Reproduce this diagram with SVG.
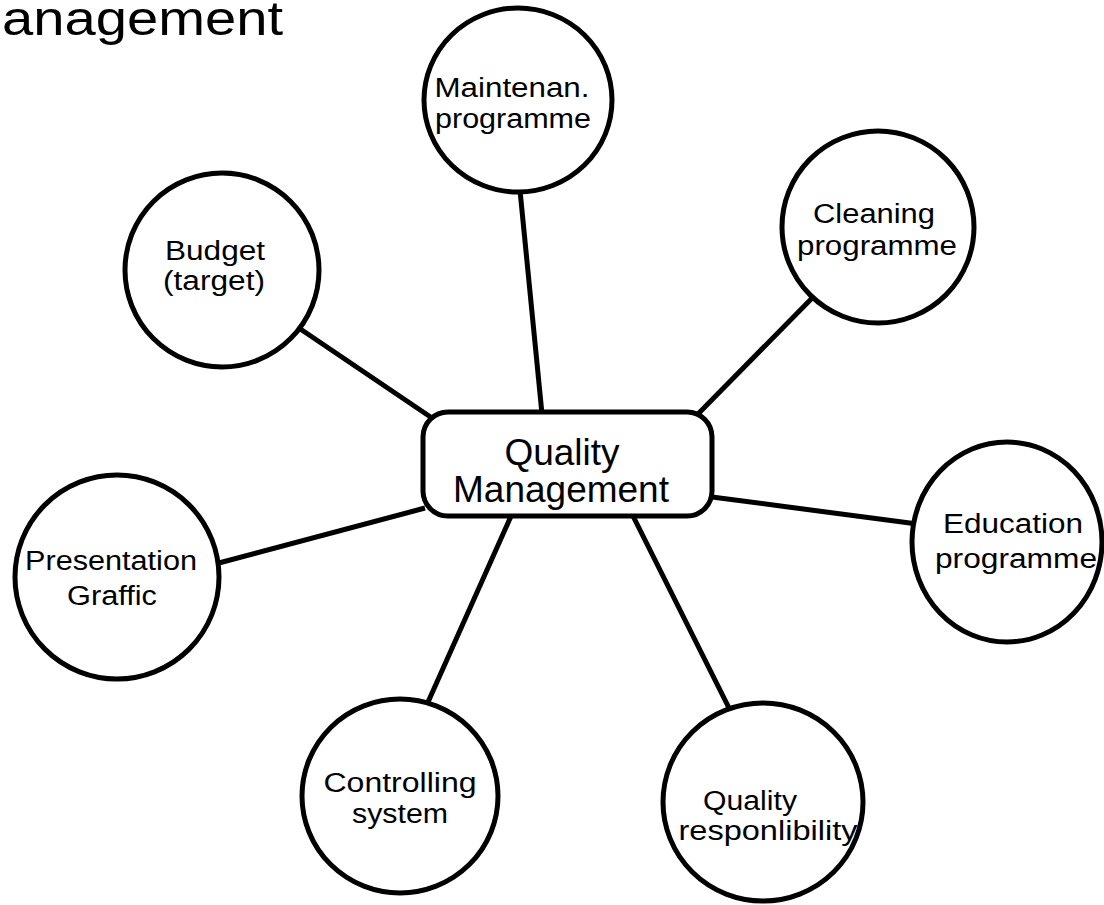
<svg xmlns="http://www.w3.org/2000/svg" width="1104" height="905" viewBox="0 0 1104 905">
<style>
.node{fill:#fff;stroke:#000;stroke-width:5}
.conn line{stroke:#000;stroke-width:5}
.t{font-family:"Liberation Sans",Arial,sans-serif;font-size:27px;fill:#000;text-anchor:middle}
.c{font-family:"Liberation Sans",Arial,sans-serif;font-size:37px;fill:#000;text-anchor:middle}
</style>
<rect width="1104" height="905" fill="#fff"/>
<text x="2" y="35" font-family="Liberation Sans, Arial, sans-serif" font-size="48" textLength="281" lengthAdjust="spacingAndGlyphs" fill="#000">anagement</text>
<g class="conn">
<line x1="518" y1="170" x2="542" y2="414"/>
<line x1="820" y1="290" x2="697" y2="415"/>
<line x1="290" y1="322" x2="432" y2="418"/>
<line x1="200" y1="568" x2="425" y2="508"/>
<line x1="712" y1="497" x2="925" y2="525"/>
<line x1="420" y1="720" x2="512" y2="514"/>
<line x1="736" y1="722" x2="632" y2="514"/>
</g>
<g id="center"><rect class="node" x="423" y="412" width="289" height="104" rx="25"/>
<text class="c" x="562" y="465">Quality</text><text class="c" x="561" y="502">Management</text></g>
<g id="maint"><ellipse class="node" cx="518" cy="100" rx="94" ry="92"/>
<text class="t" x="512" y="97" textLength="155" lengthAdjust="spacingAndGlyphs">Maintenan.</text><text class="t" x="513" y="128" textLength="156" lengthAdjust="spacingAndGlyphs">programme</text></g>
<g id="clean"><ellipse class="node" cx="878" cy="227" rx="96" ry="96"/>
<text class="t" x="874" y="223" textLength="122" lengthAdjust="spacingAndGlyphs">Cleaning</text><text class="t" x="877" y="255" textLength="160" lengthAdjust="spacingAndGlyphs">programme</text></g>
<g id="budget"><ellipse class="node" cx="222" cy="270" rx="97" ry="97"/>
<text class="t" x="215" y="260" textLength="100" lengthAdjust="spacingAndGlyphs">Budget</text><text class="t" x="214" y="290" textLength="102" lengthAdjust="spacingAndGlyphs">(target)</text></g>
<g id="pres"><ellipse class="node" cx="117" cy="577" rx="102" ry="102"/>
<text class="t" x="111" y="570" textLength="172" lengthAdjust="spacingAndGlyphs">Presentation</text><text class="t" x="112" y="605" textLength="90" lengthAdjust="spacingAndGlyphs">Graffic</text></g>
<g id="edu"><ellipse class="node" cx="1007" cy="542" rx="95" ry="100"/>
<text class="t" x="1013" y="533" textLength="140" lengthAdjust="spacingAndGlyphs">Education</text><text class="t" x="1016" y="568" textLength="162" lengthAdjust="spacingAndGlyphs">programme</text></g>
<g id="ctrl"><ellipse class="node" cx="400" cy="796" rx="98" ry="97"/>
<text class="t" x="400" y="792" textLength="153" lengthAdjust="spacingAndGlyphs">Controlling</text><text class="t" x="400" y="823" textLength="96" lengthAdjust="spacingAndGlyphs">system</text></g>
<g id="qresp"><ellipse class="node" cx="763" cy="802" rx="100" ry="99"/>
<text class="t" x="750" y="810" textLength="94" lengthAdjust="spacingAndGlyphs">Quality</text><text class="t" x="768" y="840" textLength="179" lengthAdjust="spacingAndGlyphs">responlibility</text></g>
</svg>
